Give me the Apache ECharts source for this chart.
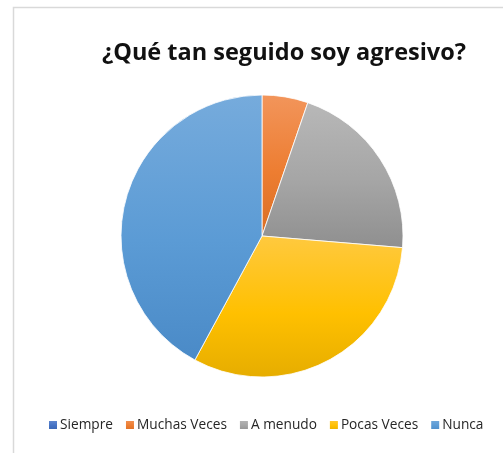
<!DOCTYPE html>
<html>
<head>
<meta charset="utf-8">
<script src="https://cdn.jsdelivr.net/npm/echarts@6/dist/echarts.min.js"></script>
<style>
  html, body { margin: 0; padding: 0; background: #fff; }
  #chart { width: 503px; height: 453px; }
</style>
</head>
<body>
<div id="chart"></div>
<script>
// Survey answers: how often the respondent is aggressive
const categories = ['Siempre', 'Muchas Veces', 'A menudo', 'Pocas Veces', 'Nunca'];
const counts = [0, 1, 4, 6, 8];
const baseColors = ['#4472C4', '#ED7D31', '#A5A5A5', '#FFC000', '#5B9BD5'];
const lightColors = ['#6A8FD3', '#F2955B', '#B8B8B8', '#FFC93F', '#76ABDC'];
const darkColors = ['#3A63AD', '#D96E25', '#8F8F8F', '#E6AD00', '#4A8AC7'];
const titleText = '¿Qué tan seguido soy agresivo?';

function sliceGradient(i) {
  return new echarts.graphic.LinearGradient(0, 0, 0, 1, [
    { offset: 0, color: lightColors[i] },
    { offset: 0.55, color: baseColors[i] },
    { offset: 1, color: darkColors[i] }
  ]);
}

const chart = echarts.init(document.getElementById('chart'), null, { renderer: 'canvas' });
chart.setOption({
  animation: false,
  backgroundColor: '#ffffff',
  graphic: [{
    type: 'rect',
    shape: { x: 13.5, y: 7.5, width: 520, height: 480 },
    style: { fill: 'none', stroke: '#d9d9d9', lineWidth: 1.5 },
    silent: true
  }],
  title: {
    text: titleText,
    left: 279,
    top: 36,
    textAlign: 'center',
    textStyle: {
      fontFamily: 'Open Sans',
      fontWeight: 'bold',
      fontSize: 23.5,
      color: '#111111'
    }
  },
  legend: {
    data: categories,
    bottom: 16,
    left: 42,
    itemWidth: 10,
    itemHeight: 10,
    itemGap: 11,
    icon: 'rect',
    textStyle: {
      fontFamily: 'Open Sans',
      fontSize: 13.7,
      color: '#262626',
      padding: [0, 0, 0, -3]
    }
  },
  series: [{
    type: 'pie',
    center: [262, 236],
    radius: 141,
    startAngle: 90,
    clockwise: true,
    label: { show: false },
    labelLine: { show: false },
    itemStyle: { borderColor: '#ffffff', borderWidth: 0.8 },
    emphasis: { disabled: true },
    data: categories.map((name, i) => ({
      name: name,
      value: counts[i],
      itemStyle: { color: sliceGradient(i) }
    }))
  }],
  color: baseColors
});
</script>
</body>
</html>
